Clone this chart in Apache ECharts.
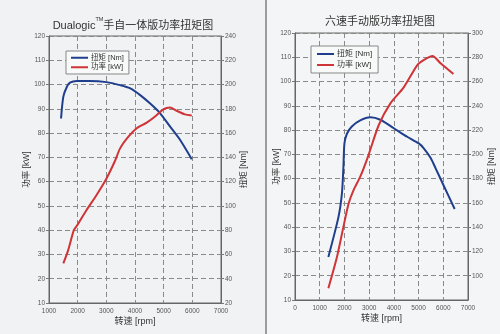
<!DOCTYPE html>
<html>
<head>
<meta charset="utf-8">
<script src="https://cdn.jsdelivr.net/npm/echarts@6/dist/echarts.min.js"></script>
<style>
  html, body { margin: 0; padding: 0; background: #f0f2f3; }
  #chart { width: 500px; height: 334px; }
</style>
</head>
<body>
<div id="chart"></div>
<script>
// Dualogic (automated manual) engine curves
const dualRpmTorque = [1420, 1500, 1620, 1730, 1970, 2430, 3010, 3480, 3820, 4170, 4520, 4870, 5220, 5570, 5980];
const dualTorque    = [172, 190, 198, 201.5, 203, 203, 202, 199.5, 197, 191.5, 184.5, 176.5, 165.5, 154.5, 138.5];
const dualRpmPower  = [1500, 1670, 1870, 1990, 2310, 2660, 3010, 3300, 3480, 3770, 4060, 4410, 4700, 4990, 5220, 5450, 5740, 5980];
const dualPower     = [26.3, 31.8, 40.1, 42.1, 48.3, 54.5, 61.4, 68.5, 73.7, 78.5, 82, 84.3, 86.8, 89.8, 90.5, 89.2, 87.7, 87.2];

// Six-speed manual engine curves
const sixRpmTorque = [1350, 1760, 1900, 1960, 2000, 2100, 2300, 2640, 3050, 3450, 4000, 4540, 5010, 5210, 5490, 5690, 6000, 6460];
const sixTorque    = [115.5, 148.5, 168, 190, 209, 217, 223, 228, 230.5, 228.5, 221.5, 214.5, 209, 205, 197, 188.5, 175, 155];
const sixRpmPower  = [1350, 1700, 1960, 2170, 2370, 2640, 2950, 3390, 3860, 4400, 4950, 5220, 5560, 5890, 6410];
const sixPower     = [14.8, 27.8, 40.2, 49.8, 55.3, 60.8, 69, 82.1, 91, 97.6, 106.8, 108.9, 110.5, 107.5, 103.1];

// Axis tick settings
const dualX = { min: 1000, max: 7000, step: 1000 };
const dualKw = { min: 10, max: 120, step: 10 };
const dualNm = { min: 20, max: 240, step: 20 };
const sixX = { min: 0, max: 7000, step: 1000 };
const sixKw = { min: 10, max: 120, step: 10 };
const sixNm = { min: 80, max: 300, step: 20 };

const nameTorque = '扭矩 [Nm]';
const namePower = '功率 [kW]';
const nameSpeed = '转速 [rpm]';

const FONT = '"Liberation Sans", "Noto Sans CJK SC", sans-serif';
const BLUE = '#1f3f8e';
const RED = '#cf3438';

const pairs = (xs, ys) => xs.map((x, i) => [x, ys[i]]);
const plain = v => String(v);

const labelStyle = { fontSize: 6.5, color: '#555', fontFamily: FONT, formatter: plain };
const nameStyle = { fontSize: 8.5, color: '#333', fontFamily: FONT };
const dashed = { show: true, lineStyle: { color: '#8a8a8a', type: [5, 3], width: 1 } };

function xAxis(grid, r) {
  return {
    type: 'value', gridIndex: grid, min: r.min, max: r.max, interval: r.step,
    name: nameSpeed, nameLocation: 'middle', nameGap: 14, nameMoveOverlap: false,
    nameTextStyle: Object.assign({}, nameStyle, { fontSize: 9 }),
    axisLine: { show: true, onZero: false, lineStyle: { color: '#666' } },
    axisTick: { show: false },
    axisLabel: Object.assign({ margin: 5 }, labelStyle),
    splitLine: dashed
  };
}
function yAxis(grid, r, pos, name, gap, extra) {
  return Object.assign({
    type: 'value', gridIndex: grid, position: pos, min: r.min, max: r.max, interval: r.step,
    name: name, nameLocation: 'middle', nameGap: gap, nameRotate: 90, nameMoveOverlap: false,
    nameTextStyle: nameStyle,
    axisLine: { show: true, onZero: false, lineStyle: { color: '#666' } },
    axisTick: { show: true, inside: false, length: 3, lineStyle: { color: '#777' } },
    axisLabel: Object.assign({ margin: 4 }, labelStyle),
    splitLine: pos === 'left' ? dashed : { show: false }
  }, extra || {});
}
function line(name, color, xi, yi, data) {
  return {
    type: 'line', name: name, xAxisIndex: xi, yAxisIndex: yi, data: data,
    showSymbol: false, smooth: 0.25, lineStyle: { color: color, width: 2 }, itemStyle: { color: color },
    animation: false
  };
}
function legend(left, top, gap, pad, size) {
  return {
    left: left, top: top, orient: 'vertical', data: [nameTorque, namePower],
    icon: 'rect', itemWidth: 17, itemHeight: 2, itemGap: gap, padding: pad,
    borderColor: '#888', borderWidth: 1, backgroundColor: '#f8f9f9',
    textStyle: { fontSize: size, color: '#333', fontFamily: FONT, padding: [0, 0, 0, -2] },
    selectedMode: false
  };
}

const chart = echarts.init(document.getElementById('chart'), null, { renderer: 'canvas' });
chart.setOption({
  backgroundColor: '#f0f2f3',
  animation: false,
  graphic: [
    { type: 'rect', shape: { x: 267, y: 0, width: 233, height: 334 }, style: { fill: '#f4f5f6' }, z: -10 },
    { type: 'line', shape: { x1: 266, y1: 0, x2: 266, y2: 334 }, style: { stroke: '#9b9ea1', lineWidth: 2 }, z: -5 }
  ],
  title: [
    {
      text: '{a|Dualogic}{tm|TM}{a|手自一体版功率扭矩图}', left: 133, top: 17, textAlign: 'center', padding: 0,
      textStyle: {
        fontSize: 11, fontWeight: 'normal', color: '#333', fontFamily: FONT,
        rich: {
          a: { fontSize: 11, color: '#333', fontFamily: FONT, lineHeight: 14, verticalAlign: 'bottom' },
          tm: { fontSize: 5.5, color: '#333', fontFamily: FONT, lineHeight: 6, verticalAlign: 'top' }
        }
      }
    },
    {
      text: '六速手动版功率扭矩图', left: 380, top: 16, textAlign: 'center', padding: 0,
      textStyle: { fontSize: 11, fontWeight: 'normal', color: '#333', fontFamily: FONT }
    }
  ],
  legend: [legend(66, 51, 2, [3, 5], 7.5), legend(311, 46, 3, [4, 6], 8)],
  grid: [
    { left: 49, top: 36, width: 172, height: 267, show: true, borderColor: '#666', borderWidth: 1, backgroundColor: 'transparent' },
    { left: 295, top: 33, width: 173, height: 267, show: true, borderColor: '#666', borderWidth: 1, backgroundColor: 'transparent' }
  ],
  xAxis: [xAxis(0, dualX), xAxis(1, sixX)],
  yAxis: [
    yAxis(0, dualKw, 'left', namePower, 18),
    yAxis(0, dualNm, 'right', nameTorque, 18),
    yAxis(1, sixKw, 'left', namePower, 14),
    yAxis(1, sixNm, 'right', nameTorque, 19, { axisLabel: Object.assign({ margin: 4, showMinLabel: false }, labelStyle) })
  ],
  series: [
    line(nameTorque, BLUE, 0, 1, pairs(dualRpmTorque, dualTorque)),
    line(namePower, RED, 0, 0, pairs(dualRpmPower, dualPower)),
    line(nameTorque, BLUE, 1, 3, pairs(sixRpmTorque, sixTorque)),
    line(namePower, RED, 1, 2, pairs(sixRpmPower, sixPower))
  ]
});
</script>
</body>
</html>
